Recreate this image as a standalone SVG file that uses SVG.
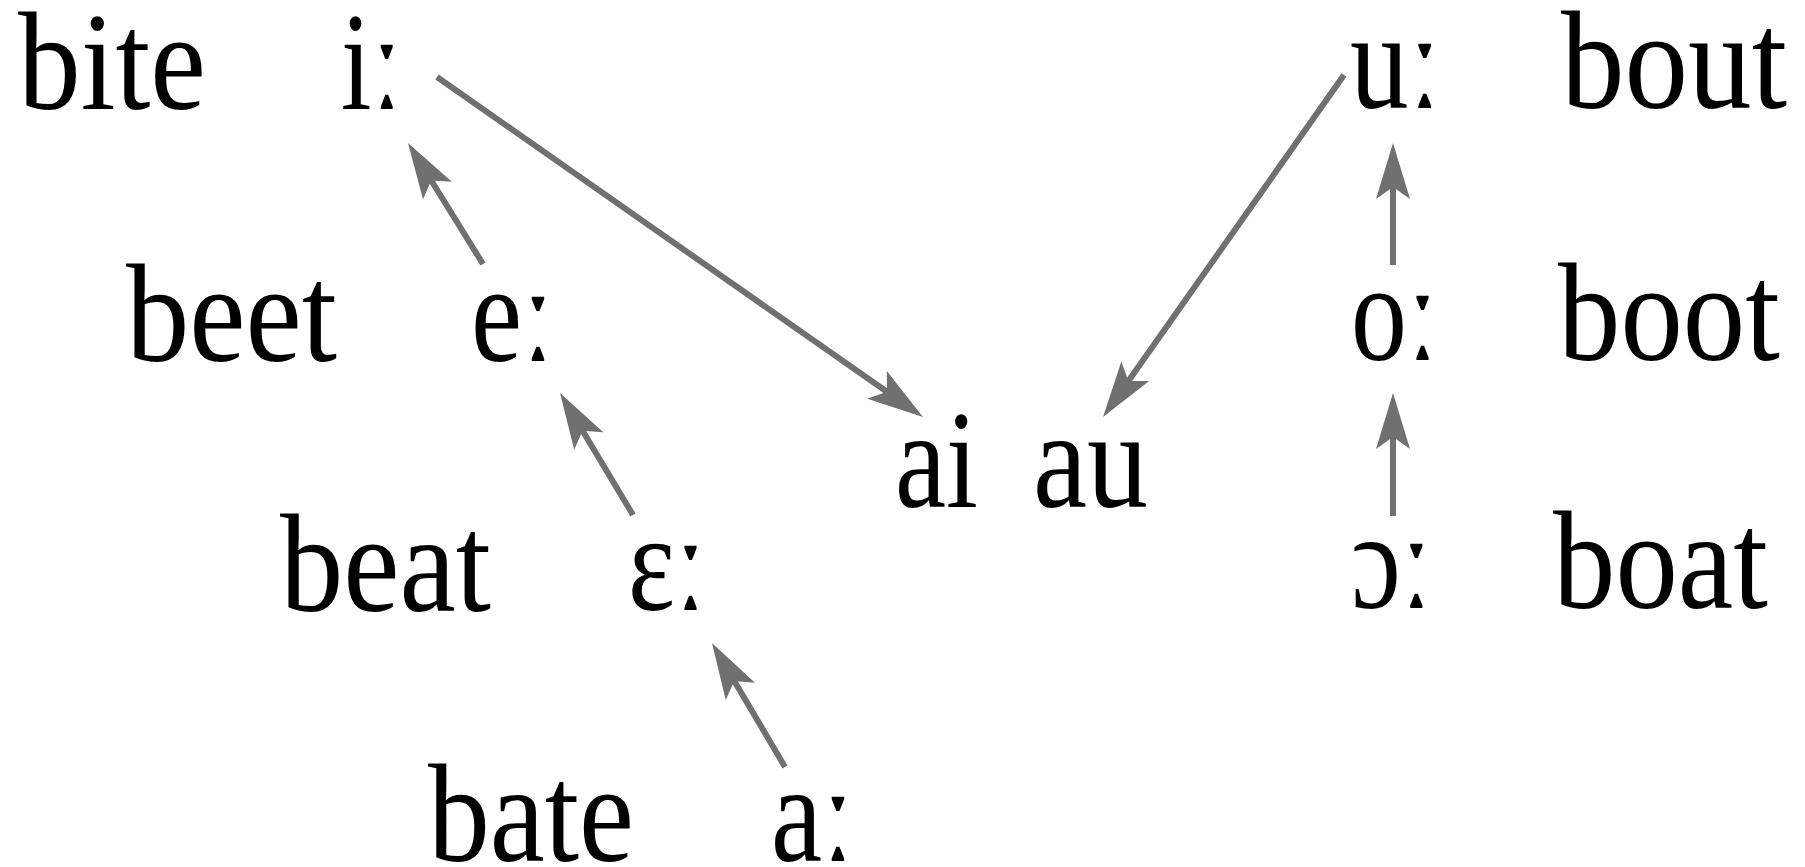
<svg xmlns="http://www.w3.org/2000/svg" width="1805" height="867" viewBox="0 0 1805 867">
<style>
  text { font-family: "Liberation Serif", "DejaVu Serif", serif; font-size: 140px; fill: #000; }
  .arrow { stroke: #707070; stroke-width: 6; fill: none; marker-end: url(#ah); }
</style>
<defs>
  <marker id="ah" markerUnits="userSpaceOnUse" markerWidth="60" markerHeight="40" viewBox="0 0 60 40" refX="28" refY="20" orient="auto">
    <path d="M58,20 L2,3 L14,20 L2,37 Z" fill="#707070"/>
  </marker>
</defs>
<rect width="1805" height="867" fill="#fff"/>
<g id="connectors">
  <line class="arrow" x1="437" y1="77" x2="898.4" y2="399.8"/>
  <line class="arrow" x1="483" y1="264" x2="423.8" y2="168.5"/>
  <line class="arrow" x1="633" y1="515" x2="575.4" y2="418.7"/>
  <line class="arrow" x1="785" y1="767" x2="727.2" y2="668.9"/>
  <line class="arrow" x1="1344" y1="75" x2="1120.3" y2="392.5"/>
  <line class="arrow" x1="1393" y1="265" x2="1393" y2="173"/>
  <line class="arrow" x1="1393" y1="516" x2="1393" y2="423"/>
</g>
<g id="word-bite"><text x="18" y="109" textLength="188" lengthAdjust="spacingAndGlyphs">bite</text></g>
<g id="vowel-i"><text x="341" y="109" textLength="61" lengthAdjust="spacingAndGlyphs">iː</text></g>
<g id="word-beet"><text x="126" y="361" textLength="211" lengthAdjust="spacingAndGlyphs">beet</text></g>
<g id="vowel-e"><text x="471" y="361" textLength="83" lengthAdjust="spacingAndGlyphs">eː</text></g>
<g id="word-beat"><text x="280" y="611" textLength="211" lengthAdjust="spacingAndGlyphs">beat</text></g>
<g id="vowel-epsilon"><text x="628" y="610" textLength="78" lengthAdjust="spacingAndGlyphs">ɛː</text></g>
<g id="word-bate"><text x="428" y="861" textLength="206" lengthAdjust="spacingAndGlyphs">bate</text></g>
<g id="vowel-a"><text x="771" y="861" textLength="83" lengthAdjust="spacingAndGlyphs">aː</text></g>
<g id="diph-ai"><text x="895" y="507" textLength="83" lengthAdjust="spacingAndGlyphs">ai</text></g>
<g id="diph-au"><text x="1033" y="507" textLength="115" lengthAdjust="spacingAndGlyphs">au</text></g>
<g id="vowel-u"><text x="1350" y="108" textLength="91" lengthAdjust="spacingAndGlyphs">uː</text></g>
<g id="word-bout"><text x="1561" y="108" textLength="226" lengthAdjust="spacingAndGlyphs">bout</text></g>
<g id="vowel-o"><text x="1351" y="360" textLength="87" lengthAdjust="spacingAndGlyphs">oː</text></g>
<g id="word-boot"><text x="1558" y="360" textLength="222" lengthAdjust="spacingAndGlyphs">boot</text></g>
<g id="vowel-open-o"><text x="1351" y="608" textLength="81" lengthAdjust="spacingAndGlyphs">ɔː</text></g>
<g id="word-boat"><text x="1553" y="608" textLength="215" lengthAdjust="spacingAndGlyphs">boat</text></g>
</svg>
